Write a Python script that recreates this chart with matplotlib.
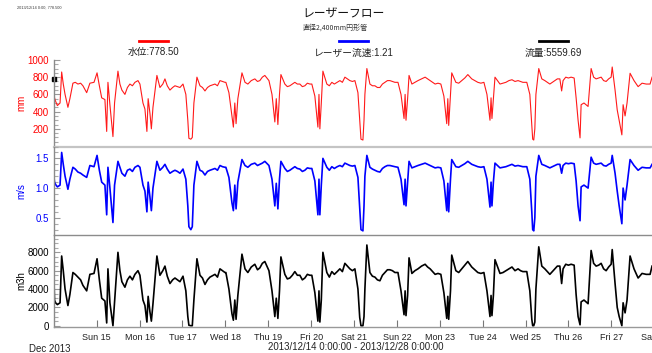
import numpy as np
import pandas as pd
import matplotlib
matplotlib.use('Agg')
import matplotlib.pyplot as plt
from matplotlib.lines import Line2D
from matplotlib.ticker import MultipleLocator

# ---------------- data ----------------
start = pd.Timestamp('2013-12-14 00:00')
end = pd.Timestamp('2013-12-28 00:00')

hours = [
    0, 0.4, 1, 2, 3.5, 4.4, 5.3, 6.3, 7.9, 9, 10.7, 12, 13.5, 15, 16.3, 18.4, 20.2, 22.5,
    24.2, 25.5, 26.8, 28.6, 29.6, 30.3, 31.4, 33.1, 34, 35.9, 37, 38.1, 39.8, 41.2, 42.6, 44, 45.4, 47.1,
    48.2, 49.9, 51, 52.1, 52.8, 53.8, 54.6, 55.5, 57.7, 59.4, 61, 62.2, 63.5, 65, 66.5, 67.8, 69.2, 70.6,
    72.3, 73.9, 75, 75.6, 76.7, 77.5, 78.4, 80.1, 81.8, 83.2, 84.6, 86, 87.4, 90.2, 91.6, 93, 94.4, 95.8,
    96.3, 98, 99.7, 100.5, 101.3, 102, 103, 105.3, 107, 108.6, 110.5, 112.5, 114, 115.3, 116.7, 118.1,
    120.4, 122.1, 123.7, 124.5, 125.4, 126.3, 127.1, 129.3, 130.7, 132.1, 133.5, 134.9, 136.3, 137.7, 139.1, 140.5, 141.9, 143.3,
    144.4, 146.1, 147.8, 148.4, 148.9, 149.7, 150.6, 152.8, 154.2, 155.6, 157, 158.6, 160.1, 161.5, 162.9, 164.3, 165.7, 167.1,
    168.5, 170.2, 171.2, 171.9, 173, 173.6, 174.1, 175.2, 176.9, 178.3, 179.7, 181.1, 182.5, 183.9, 185.3, 186.7, 188.1, 189.5, 190.9,
    192.6, 194.3, 196, 196.6, 197.1, 198, 198.8, 200.4, 202.1, 203.8, 205.8, 207.8, 209.2, 210.6, 212, 213.4, 215,
    216.6, 218.3, 219.9, 220.5, 221, 222, 222.7, 225, 226.6, 228.3, 230, 231.7, 233.9, 235.6, 237.3, 239,
    240.7, 242.4, 244.1, 244.7, 245.2, 246, 246.9, 249.7, 251.4, 253, 254.7, 256.4, 258.1, 259.8, 261.2, 262.5,
    264.7, 266.4, 267.5, 268, 268.6, 269.2, 269.8, 271.4, 273.1, 274.8, 276.2, 277.6, 279, 280.4, 281.8, 283.2, 284.2, 285, 286.5,
    288, 289.5, 291.2, 292.3, 293.4, 294.5, 295.1, 296.7, 299, 300.7, 302.1, 303.5, 304.9, 306.3, 307.7, 309.1, 310.5, 311.9,
    312.5, 314.1, 315.3, 316.4, 317.9, 318.6, 319.7, 320.8, 322.5, 324.7, 327, 329.2, 331.5, 333.7, 334.8,
]

level_mm = [
    778.5, 560, 520, 470, 500, 860, 720, 600, 450, 550, 730, 740, 720, 730, 700, 620, 730, 740,
    850, 700, 560, 540, 170, 740, 480, 110, 500, 870, 720, 650, 600, 680, 720, 700, 740, 760,
    720, 500, 430, 170, 550, 380, 200, 450, 820, 680, 720, 780, 700, 650, 680, 700, 690, 680,
    720, 600, 300, 90, 80, 100, 500, 800, 700, 680, 640, 680, 700, 720, 700, 760, 750, 740,
    740, 620, 350, 220, 500, 260, 550, 850, 740, 720, 760, 780, 750, 760, 800, 820,
    760, 600, 280, 550, 250, 600, 830, 720, 690, 700, 720, 740, 720, 720, 690, 700, 730, 720,
    720, 580, 220, 600, 200, 500, 870, 720, 700, 740, 720, 740, 760, 740, 800, 780, 760, 750,
    760, 620, 300, 80, 70, 300, 600, 900, 720, 700, 700, 680, 680, 720, 740, 760, 760, 750, 740,
    740, 600, 320, 600, 300, 550, 820, 720, 740, 760, 780, 800, 780, 760, 740, 720, 730,
    720, 580, 260, 550, 240, 600, 850, 740, 730, 760, 790, 830, 780, 760, 740, 730,
    740, 600, 300, 560, 320, 550, 800, 720, 730, 740, 760, 770, 750, 760, 750, 740,
    740, 600, 250, 80, 70, 200, 600, 900, 780, 760, 740, 720, 740, 760, 780, 780, 640, 760, 800,
    790, 800, 790, 560, 300, 95, 480, 500, 460, 900, 800, 780, 790, 800, 760, 750, 780, 800,
    918, 650, 420, 300, 130, 480, 350, 500, 845, 760, 690, 730, 720, 720, 800,
]

velocity_ms = [
    1.21, 1.10, 1.06, 1.02, 1.05, 1.60, 1.40, 1.20, 0.98, 1.15, 1.35, 1.32, 1.27, 1.25, 1.22, 1.18, 1.38, 1.36,
    1.55, 1.30, 1.10, 1.05, 0.55, 1.35, 1.00, 0.42, 1.05, 1.45, 1.35, 1.25, 1.20, 1.30, 1.32, 1.28, 1.35, 1.38,
    1.35, 1.05, 0.95, 0.60, 1.10, 0.85, 0.62, 1.00, 1.45, 1.30, 1.35, 1.40, 1.32, 1.25, 1.28, 1.30, 1.28, 1.25,
    1.32, 1.15, 0.70, 0.35, 0.30, 0.35, 1.05, 1.45, 1.30, 1.28, 1.22, 1.28, 1.30, 1.33, 1.30, 1.38, 1.36, 1.35,
    1.35, 1.18, 0.75, 0.62, 1.05, 0.65, 1.10, 1.48, 1.38, 1.35, 1.40, 1.42, 1.38, 1.40, 1.42, 1.45,
    1.38, 1.15, 0.70, 1.08, 0.65, 1.15, 1.45, 1.33, 1.28, 1.30, 1.33, 1.36, 1.33, 1.32, 1.28, 1.30, 1.34, 1.33,
    1.33, 1.12, 0.55, 1.15, 0.55, 1.05, 1.50, 1.35, 1.30, 1.36, 1.33, 1.36, 1.38, 1.36, 1.42, 1.40, 1.38, 1.37,
    1.38, 1.18, 0.65, 0.30, 0.28, 0.70, 1.20, 1.55, 1.35, 1.32, 1.30, 1.28, 1.27, 1.33, 1.36, 1.38, 1.38, 1.37, 1.36,
    1.35, 1.15, 0.72, 1.15, 0.70, 1.10, 1.45, 1.34, 1.36, 1.38, 1.40, 1.42, 1.40, 1.38, 1.36, 1.34, 1.35,
    1.34, 1.12, 0.62, 1.08, 0.60, 1.15, 1.48, 1.36, 1.35, 1.38, 1.41, 1.45, 1.40, 1.38, 1.36, 1.35,
    1.36, 1.15, 0.68, 1.10, 0.70, 1.10, 1.42, 1.34, 1.35, 1.36, 1.38, 1.40, 1.37, 1.38, 1.37, 1.36,
    1.36, 1.15, 0.60, 0.30, 0.28, 0.50, 1.20, 1.55, 1.40, 1.38, 1.36, 1.34, 1.36, 1.38, 1.40, 1.40, 1.25, 1.38, 1.42,
    1.41, 1.42, 1.41, 1.12, 0.70, 0.45, 1.02, 1.05, 1.00, 1.52, 1.42, 1.40, 1.41, 1.42, 1.38, 1.37, 1.40, 1.42,
    1.55, 1.25, 0.95, 0.70, 0.40, 1.00, 0.80, 1.05, 1.48, 1.38, 1.30, 1.35, 1.34, 1.34, 1.40,
]

flow_m3h = [
    5560, 2800, 2500, 2300, 2500, 7600, 6000, 4000, 2200, 3400, 5800, 5600, 5300, 5000, 4400, 3800, 5600, 5700,
    7300, 5000, 3000, 2700, 300, 6200, 2500, 0, 2600, 8000, 6000, 4800, 4200, 5000, 5400, 5000, 5600, 6000,
    5500, 2800, 2200, 400, 3200, 1500, 500, 2400, 7600, 5500, 6000, 6500, 5400, 4600, 5000, 5200, 5000, 4800,
    5400, 3800, 1000, 50, 0, 0, 2800, 7300, 5500, 5200, 4500, 5000, 5300, 5600, 5300, 6200, 6000, 5800,
    5800, 4000, 1300, 600, 2800, 700, 3300, 7800, 6200, 5800, 6400, 6700, 6100, 6300, 6800, 7000,
    6000, 3800, 1000, 3000, 800, 3800, 7500, 5600, 5100, 5200, 5500, 5900, 5500, 5500, 5000, 5200, 5600, 5500,
    5500, 3600, 500, 3800, 400, 2800, 8000, 5800, 5300, 5900, 5600, 5900, 6200, 5900, 6800, 6500, 6200, 6000,
    6200, 4000, 900, 0, 0, 1000, 4000, 8800, 5800, 5400, 5300, 5000, 4900, 5500, 5800, 6100, 6100, 6000, 5800,
    5800, 3800, 1200, 3800, 1100, 3300, 7400, 5700, 6000, 6200, 6500, 6700, 6400, 6200, 5900, 5600, 5700,
    5600, 3600, 800, 3200, 700, 3800, 7700, 6000, 5800, 6200, 6600, 7000, 6400, 6100, 5800, 5700,
    5800, 3800, 1000, 3300, 1100, 3300, 7200, 5700, 5800, 6000, 6200, 6400, 6000, 6200, 6000, 5900,
    5900, 3800, 700, 0, 0, 400, 4000, 8600, 6500, 6200, 5900, 5600, 5900, 6200, 6500, 6500, 4600, 6200, 6700,
    6600, 6700, 6600, 3400, 1000, 100, 2600, 2800, 2400, 8200, 6800, 6500, 6600, 6800, 6200, 6000, 6400, 6700,
    8300, 4600, 2000, 1000, 0, 2500, 1400, 2800, 7600, 6200, 5200, 5700, 5600, 5600, 6500,
]

cursor_text = '2013/12/14 0:00, 778.500'
title = 'レーザーフロー'
subtitle = '直径2,400mm円形管'
legend_labels = ['水位:778.50', 'レーザー流速:1.21', '流量:5559.69']
legend_colors = ['#ff0000', '#0000ff', '#000000']
units = ['mm', 'm/s', 'm3h']
range_text = '2013/12/14 0:00:00 - 2013/12/28 0:00:00'
month_text = 'Dec 2013'

# ---------------- plotting ----------------
times = start + pd.to_timedelta(np.array(hours, dtype=float), unit='h')
tick_dates = pd.date_range('2013-12-15', '2013-12-28', freq='D')
tick_labels = [d.strftime('%a %d') for d in tick_dates]

LAT = ['Liberation Sans', 'Noto Sans CJK JP', 'DejaVu Sans']
CJK = ['Noto Sans CJK JP', 'Liberation Sans', 'DejaVu Sans']
plt.rcParams['font.family'] = LAT

W, H = 652, 353
fig = plt.figure(figsize=(W / 100, H / 100), dpi=100)

def fx(px):
    return px / W

def fy(py):
    return 1 - py / H

left = fx(53.8)
width = (654.2 - 53.8) / W
ax1 = fig.add_axes([left, fy(146.5), width, (146.5 - 59.5) / H])
ax2 = fig.add_axes([left, fy(235.0), width, (235.0 - 146.5) / H], sharex=ax1)
ax3 = fig.add_axes([left, fy(327.0), width, (327.0 - 235.0) / H], sharex=ax1)

ax1.plot(times, level_mm, color='#ff1a1a', lw=0.8)
ax2.plot(times, velocity_ms, color='#0000ff', lw=1.2)
ax3.plot(times, flow_m3h, color='#000000', lw=1.2)
ax1.plot([times[0]], [level_mm[0]], marker='s', ms=3.2, color='black', clip_on=False, ls='none')

ax1.set_ylim(-5, 1005)
ax2.set_ylim(0.21, 1.70)
ax3.set_ylim(-140, 9890)
ax1.set_xlim(start, end)

ax1.yaxis.set_major_locator(MultipleLocator(200))
ax1.yaxis.set_minor_locator(MultipleLocator(50))
ax2.yaxis.set_major_locator(MultipleLocator(0.5))
ax2.yaxis.set_minor_locator(MultipleLocator(0.1))
ax3.yaxis.set_major_locator(MultipleLocator(2000))
ax3.yaxis.set_minor_locator(MultipleLocator(500))

ax1.set_yticks([200, 400, 600, 800, 1000])
ax1.set_yticklabels(['200', '400', '600', '800', '1000'])
ax2.set_yticks([0.5, 1.0, 1.5])
ax2.set_yticklabels(['0.5', '1.0', '1.5'])
ax3.set_yticks([0, 2000, 4000, 6000, 8000])
ax3.set_yticklabels(['0', '2000', '4000', '6000', '8000'])

gray = '#8a8a8a'
for ax, col, unit in zip([ax1, ax2, ax3], legend_colors, units):
    for s in ['top', 'right']:
        ax.spines[s].set_visible(False)
    ax.spines['left'].set_color(gray)
    ax.spines['left'].set_linewidth(1.0)
    ax.tick_params(axis='y', which='major', direction='in', length=4, width=0.8,
                   color='#999999', labelcolor=col, labelsize=7, pad=3.5)
    ax.tick_params(axis='y', which='minor', direction='in', length=3, width=0.8,
                   color='#aaaaaa')
    ax.set_ylabel(unit, color=col, fontsize=7)
    ax.yaxis.set_label_coords(-0.046, 0.5)
    ax.patch.set_alpha(0)

ax1.spines['bottom'].set_color('#c4c4c4')
ax1.spines['bottom'].set_linewidth(1.6)
ax2.spines['bottom'].set_color('#8c8c8c')
ax2.spines['bottom'].set_linewidth(1.0)
ax3.spines['bottom'].set_color('#999999')
ax3.spines['bottom'].set_linewidth(1.0)

for ax in (ax1, ax2):
    ax.tick_params(axis='x', which='both', bottom=False, labelbottom=False)

ax3.set_xticks(tick_dates)
ax3.set_xticklabels(tick_labels)
ax3.tick_params(axis='x', which='major', direction='in', length=5, width=0.8,
                color='#777777', labelsize=6.5, pad=4, labelcolor='#222222')
ax3.tick_params(axis='x', which='minor', bottom=False)

# texts
fig.text(fx(17), fy(8), cursor_text, fontsize=2.8, color='#333333', ha='left', va='center')
fig.text(fx(343), fy(14), title, fontsize=8.5, ha='center', va='center', family=CJK, color='#111111')
fig.text(fx(335), fy(27.5), subtitle, fontsize=5, ha='center', va='center', family=CJK, color='#333333')

centers = [153.5, 353.5, 553.0]
for c, lab, col in zip(centers, legend_labels, legend_colors):
    fig.add_artist(Line2D([fx(c - 14.5), fx(c + 14.5)], [fy(41), fy(41)], color=col, lw=2.0))
    fig.text(fx(c), fy(52.5), lab, fontsize=7, ha='center', va='center', family=LAT, color='#222222')

fig.text(fx(50), fy(348.5), month_text, fontsize=7, ha='center', va='center', color='#222222')
fig.text(fx(355.5), fy(346.5), range_text, fontsize=7, ha='center', va='center', color='#222222')

fig.savefig('out.png', dpi=100)
